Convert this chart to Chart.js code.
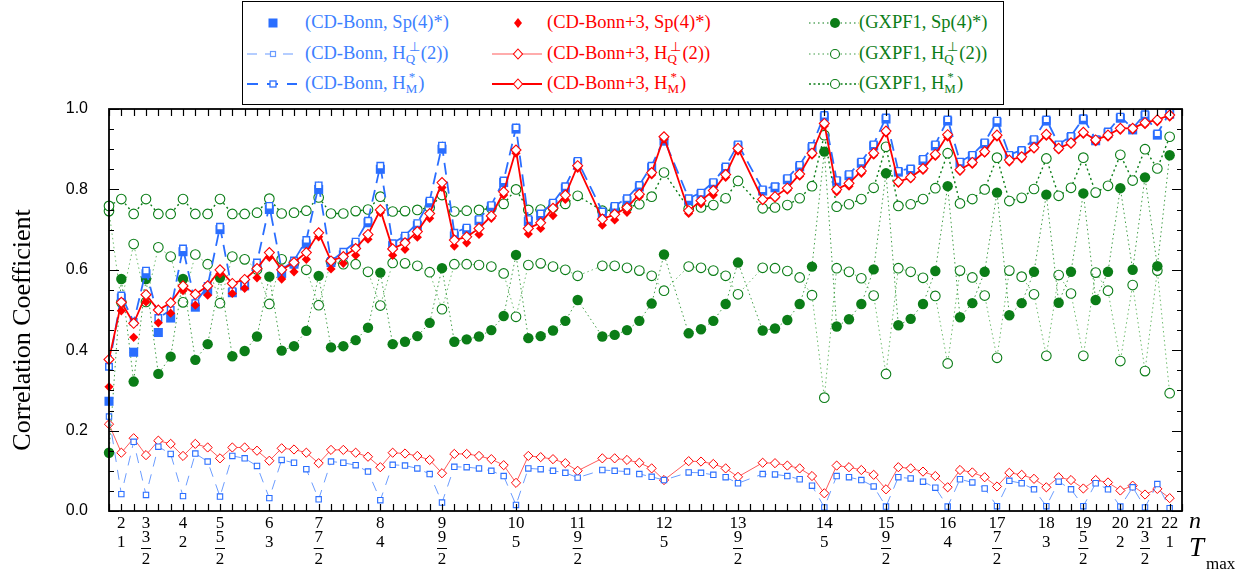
<!DOCTYPE html>
<html>
<head>
<meta charset="utf-8">
<script src="https://cdn.jsdelivr.net/npm/chart.js@4.4.1/dist/chart.umd.min.js"></script>
<style>
  body { margin: 0; background: #fff; }
  #wrap { position: relative; width: 1245px; height: 572px; }
  #legend {
    position: absolute; left: 242px; top: 1px; width: 762px; height: 104px;
    border: 1px solid #000; background: #fff; box-sizing: border-box;
    font-family: 'Liberation Serif', 'Times New Roman', serif; font-size: 18.5px;
  }
  .leg-txt { position: absolute; white-space: nowrap; line-height: 22px; }
  .leg-svg { position: absolute; }
  .ss { display: inline-block; vertical-align: middle; font-size: 13px; line-height: 12px; text-align: left; margin: -4px 1px 0 0; }
  .ss span { display: block; }
  .ss span:first-child { margin-left: 3px; }
</style>
</head>
<body>
<div id="wrap">
  <canvas id="c" width="1245" height="572"></canvas>
  <div id="legend"></div>
</div>
<script>
// Shared colors
const COLORS = {
  blue:    '#2a6eff',
  blueLt:  '#6b9cff',
  blueTxt: '#3d80ff',
  red:     '#ff0000',
  redLt:   '#ff5a5a',
  green:   '#0b7d17',
  greenMd: '#3f9c45',
  greenLt: '#6cbb6c'
};

// x positions 0..86 (one per nucleus state); null = no point
// CD-Bonn
const bonnHM = [
  0.359,0.536,0.47,0.598,0.48,0.5,0.653,0.517,0.56,0.707,
  0.547,0.566,0.618,0.759,0.6,0.623,0.674,0.81,0.622,0.645,
  0.67,0.722,0.859,0.666,0.685,0.716,0.772,0.909,0.692,0.705,
  0.726,0.761,0.822,0.954,0.726,0.74,0.767,0.808,0.871,null,
  0.745,0.759,0.778,0.811,0.859,0.925,null,0.778,0.792,0.818,
  0.857,0.912,null,0.8,0.808,0.828,0.861,0.908,0.985,0.823,
  0.838,0.869,0.912,0.979,0.846,0.852,0.876,0.912,0.974,0.869,
  0.886,0.917,0.971,0.886,0.898,0.925,0.974,0.912,0.933,0.977,
  0.925,0.944,0.981,0.952,0.987,0.939,0.991];
const bonnSp = [
  0.273,0.53,0.395,0.59,0.444,0.48,0.645,0.507,0.548,0.70,
  0.543,0.56,0.61,0.75,0.591,0.614,0.664,0.80,0.618,0.637,
  0.662,0.717,0.85,0.66,0.678,0.71,0.766,0.90,0.684,0.699,
  0.722,0.757,0.817,0.95,0.72,0.734,0.762,0.803,0.866,null,
  0.74,0.754,0.772,0.806,0.854,0.92,null,0.772,0.788,0.814,
  0.852,0.908,null,0.796,0.804,0.824,0.856,0.903,0.98,0.82,
  0.834,0.865,0.908,0.975,0.843,0.848,0.872,0.908,0.97,0.865,
  0.882,0.913,0.967,0.882,0.894,0.921,0.97,0.908,0.929,0.973,
  0.921,0.94,0.977,0.948,0.983,0.935,0.987];
const bonnHQ = [
  0.235,0.042,0.172,0.04,0.16,0.142,0.037,0.143,0.123,0.036,
  0.137,0.131,0.112,0.032,0.127,0.12,0.104,0.029,0.123,0.12,
  0.114,0.098,0.027,0.115,0.113,0.106,0.092,0.021,0.11,0.109,
  0.106,0.1,0.087,0.015,0.106,0.104,0.1,0.095,0.083,null,
  0.102,0.1,0.098,0.092,0.085,0.077,null,0.096,0.095,0.09,
  0.084,0.069,null,0.092,0.091,0.087,0.079,0.063,0.009,0.087,
  0.084,0.077,0.061,0.011,0.084,0.081,0.073,0.058,0.011,0.079,
  0.071,0.056,0.012,0.075,0.069,0.054,0.012,0.073,0.054,0.012,
  0.069,0.054,0.011,0.059,0.009,0.067,0.007];
// CD-Bonn+3
const bonn3HM = [
  0.377,0.519,0.467,0.538,0.5,0.518,0.56,0.539,0.56,0.6,
  0.566,0.576,0.603,0.643,0.6,0.618,0.643,0.692,0.622,0.633,
  0.653,0.688,0.749,0.652,0.667,0.695,0.74,0.817,0.674,0.682,
  0.703,0.734,0.794,0.898,0.703,0.717,0.753,0.786,0.859,null,
  0.726,0.738,0.755,0.788,0.842,0.931,null,0.747,0.772,0.797,
  0.837,0.902,null,0.775,0.782,0.803,0.838,0.89,0.964,0.8,
  0.815,0.846,0.89,0.945,0.819,0.83,0.852,0.887,0.936,0.849,
  0.867,0.894,0.935,0.873,0.881,0.904,0.937,0.902,0.916,0.942,
  0.923,0.935,0.952,0.952,0.966,0.973,0.985];
const bonn3Sp = [
  0.309,0.498,0.432,0.52,0.468,0.492,0.548,0.512,0.537,0.59,
  0.541,0.554,0.58,0.631,0.577,0.595,0.626,0.682,0.602,0.616,
  0.636,0.676,0.742,0.636,0.651,0.681,0.728,0.805,0.659,0.667,
  0.688,0.728,0.786,0.89,0.689,0.703,0.735,0.775,0.852,null,
  0.711,0.724,0.743,0.782,0.836,0.925,null,0.74,0.764,0.786,
  0.83,0.895,null,0.772,0.778,0.798,0.833,0.885,0.958,0.794,
  0.808,0.84,0.885,0.94,0.815,0.826,0.847,0.882,0.93,0.845,
  0.862,0.89,0.93,0.868,0.876,0.9,0.932,0.898,0.912,0.937,
  0.918,0.93,0.947,0.948,0.961,0.968,0.98];
const bonn3HQ = [
  0.216,0.145,0.181,0.139,0.175,0.167,0.137,0.167,0.158,0.131,
  0.158,0.158,0.15,0.125,0.156,0.153,0.145,0.119,0.152,0.152,
  0.145,0.135,0.109,0.145,0.143,0.137,0.127,0.094,0.142,0.142,
  0.137,0.129,0.114,0.07,0.137,0.134,0.129,0.119,0.1,null,
  0.131,0.131,0.127,0.12,0.106,0.077,null,0.124,0.123,0.117,
  0.106,0.085,null,0.12,0.119,0.113,0.106,0.087,0.044,0.113,
  0.109,0.102,0.09,0.054,0.109,0.106,0.098,0.087,0.059,0.102,
  0.096,0.084,0.061,0.095,0.09,0.08,0.059,0.084,0.077,0.056,
  0.077,0.071,0.051,0.063,0.041,0.055,0.032];
// GXPF1
const gxHM = [
  0.759,0.776,0.739,0.776,0.739,0.739,0.776,0.739,0.739,0.776,
  0.739,0.739,0.742,0.777,0.74,0.742,0.747,0.78,0.74,0.74,
  0.746,0.75,0.782,0.745,0.746,0.749,0.755,0.786,0.745,0.747,
  0.749,0.753,0.764,0.8,0.749,0.75,0.755,0.764,0.784,null,
  0.747,0.749,0.755,0.763,0.782,0.842,null,0.752,0.755,0.761,
  0.778,0.821,null,0.753,0.755,0.761,0.778,0.808,0.935,0.757,
  0.763,0.776,0.804,0.906,0.759,0.763,0.776,0.803,0.89,0.765,
  0.776,0.8,0.879,0.771,0.779,0.801,0.877,0.784,0.804,0.879,
  0.792,0.809,0.886,0.822,0.9,0.852,0.931];
const gxSp = [
  0.145,0.577,0.322,0.577,0.341,0.384,0.577,0.376,0.415,0.58,
  0.385,0.398,0.434,0.583,0.399,0.41,0.448,0.585,0.407,0.41,
  0.425,0.456,0.593,0.415,0.421,0.435,0.468,0.604,0.421,0.427,
  0.434,0.45,0.485,0.637,0.43,0.435,0.449,0.473,0.525,null,
  0.434,0.438,0.45,0.473,0.516,0.638,null,0.442,0.452,0.473,
  0.515,0.618,null,0.449,0.454,0.475,0.515,0.608,0.894,0.459,
  0.477,0.515,0.601,0.84,0.462,0.478,0.515,0.597,0.808,0.482,
  0.517,0.595,0.792,0.487,0.517,0.595,0.787,0.518,0.595,0.79,
  0.525,0.595,0.803,0.6,0.83,0.609,0.885];
const gxHQ = [
  0.746,0.519,0.664,0.52,0.656,0.633,0.519,0.638,0.614,0.517,
  0.633,0.626,0.601,0.515,0.626,0.616,0.6,0.512,0.62,0.614,
  0.614,0.595,0.511,0.617,0.616,0.61,0.594,0.502,0.614,0.614,
  0.612,0.608,0.591,0.483,0.612,0.616,0.608,0.6,0.585,null,
  0.61,0.61,0.605,0.598,0.585,0.548,null,0.608,0.605,0.598,
  0.585,0.539,null,0.605,0.604,0.597,0.581,0.537,0.282,0.604,
  0.595,0.579,0.536,0.341,0.604,0.595,0.58,0.535,0.367,0.598,
  0.581,0.536,0.381,0.598,0.583,0.539,0.386,0.587,0.541,0.386,
  0.593,0.548,0.373,0.562,0.348,0.598,0.293];

// x-axis labels: n and T_max under selected positions
const labelIdx = [1,3,6,9,13,17,22,27,33,38,45,51,58,63,68,72,76,79,82,84,86];
const nLabels  = ['2','3','4','5','6','7','8','9','10','11','12','13','14','15','16','17','18','19','20','21','22'];
const tLabels  = ['1','3/2','2','5/2','3','7/2','4','9/2','5','9/2','5','9/2','5','9/2','4','7/2','3','5/2','2','3/2','1'];
const X_MAX = 87;

const pts = arr => arr.map((v, i) => ({ x: i, y: v })).filter(p => p.y !== null);

// ── Legend (HTML) ────────────────────────────────────────────────
const legendItems = [
  { col: 0, row: 0, color: COLORS.blueTxt, text: '(CD-Bonn, Sp(4)*)', mk: 'sqFill', ln: null },
  { col: 0, row: 1, color: COLORS.blueTxt, text: '(CD-Bonn, H<span class="ss"><span>&#8869;</span><span>Q</span></span>(2))', mk: 'sqOpenS', ln: 'blueThin' },
  { col: 0, row: 2, color: COLORS.blueTxt, text: '(CD-Bonn, H<span class="ss"><span>*</span><span>M</span></span>)', mk: 'sqOpen', ln: 'blueThick' },
  { col: 1, row: 0, color: COLORS.red, text: '(CD-Bonn+3, Sp(4)*)', mk: 'diaFill', ln: null },
  { col: 1, row: 1, color: COLORS.red, text: '(CD-Bonn+3, H<span class="ss"><span>&#8869;</span><span>Q</span></span>(2))', mk: 'diaOpen', ln: 'redThin' },
  { col: 1, row: 2, color: COLORS.red, text: '(CD-Bonn+3, H<span class="ss"><span>*</span><span>M</span></span>)', mk: 'diaOpen', ln: 'redThick' },
  { col: 2, row: 0, color: COLORS.green, text: '(GXPF1, Sp(4)*)', mk: 'cirFill', ln: 'greenMd' },
  { col: 2, row: 1, color: COLORS.green, text: '(GXPF1, H<span class="ss"><span>&#8869;</span><span>Q</span></span>(2))', mk: 'cirOpen', ln: 'greenLt' },
  { col: 2, row: 2, color: COLORS.green, text: '(GXPF1, H<span class="ss"><span>*</span><span>M</span></span>)', mk: 'cirOpen', ln: 'greenDk' }
];
const LEG_MARK_X = [30, 275, 592];
const LEG_TEXT_X = [62, 304, 616];
const LEG_ROW_Y  = [21, 52, 82];

function sampleSvg(mk, ln) {
  const lines = {
    blueThin:  `<line x1="0" y1="8" x2="50" y2="8" stroke="${COLORS.blueLt}" stroke-width="1.2" stroke-dasharray="10 8"/>`,
    blueThick: `<line x1="0" y1="8" x2="50" y2="8" stroke="${COLORS.blue}" stroke-width="2" stroke-dasharray="11 9"/>`,
    redThin:   `<line x1="0" y1="8" x2="50" y2="8" stroke="${COLORS.redLt}" stroke-width="1.2"/>`,
    redThick:  `<line x1="0" y1="8" x2="50" y2="8" stroke="${COLORS.red}" stroke-width="2"/>`,
    greenMd:   `<line x1="0" y1="8" x2="50" y2="8" stroke="${COLORS.green}" stroke-width="1.2" stroke-dasharray="1.5 3"/>`,
    greenLt:   `<line x1="0" y1="8" x2="50" y2="8" stroke="${COLORS.greenMd}" stroke-width="1.2" stroke-dasharray="1.5 3"/>`,
    greenDk:   `<line x1="0" y1="8" x2="50" y2="8" stroke="${COLORS.green}" stroke-width="1.5" stroke-dasharray="2 2.5"/>`
  };
  const marks = {
    sqFill:  `<rect x="21.5" y="3.5" width="9" height="9" fill="${COLORS.blue}"/>`,
    sqOpenS: `<rect x="23.5" y="5.5" width="5" height="5" fill="#fff" stroke="${COLORS.blueLt}" stroke-width="1.2"/>`,
    sqOpen:  `<rect x="23" y="5" width="6" height="6" fill="#fff" stroke="${COLORS.blue}" stroke-width="1.3"/>`,
    diaFill: `<path d="M26 3 L30 8 L26 13 L22 8 Z" fill="${COLORS.red}"/>`,
    diaOpen: `<path d="M26 3 L30.5 8 L26 13 L21.5 8 Z" fill="#fff" stroke="${COLORS.red}" stroke-width="1.1"/>`,
    cirFill: `<circle cx="26" cy="8" r="5" fill="${COLORS.green}"/>`,
    cirOpen: `<circle cx="26" cy="8" r="4.5" fill="#fff" stroke="${COLORS.green}" stroke-width="1.1"/>`
  };
  return `<svg width="52" height="16">${ln ? lines[ln] : ''}${marks[mk]}</svg>`;
}

document.getElementById('legend').innerHTML = legendItems.map(it => `
  <div class="leg-svg" style="left:${LEG_MARK_X[it.col] - 26}px;top:${LEG_ROW_Y[it.row] - 8}px">${sampleSvg(it.mk, it.ln)}</div>
  <div class="leg-txt" style="left:${LEG_TEXT_X[it.col]}px;top:${LEG_ROW_Y[it.row] - 12}px;color:${it.color}">${it.text}</div>
`).join('');

// ── Frame, inward ticks, two-row x labels, y title ───────────────
const framePlugin = {
  id: 'frame',
  afterDraw(chart) {
    const { ctx, chartArea: a, scales: { x, y } } = chart;
    ctx.save();
    ctx.strokeStyle = '#000';
    ctx.lineWidth = 1.2;
    ctx.beginPath();
    for (let i = 0; i <= X_MAX; i++) {
      const px = Math.round(x.getPixelForValue(i)) + 0.5;
      ctx.moveTo(px, a.bottom); ctx.lineTo(px, a.bottom - 7);
      ctx.moveTo(px, a.top);    ctx.lineTo(px, a.top + 7);
    }
    for (let k = 0; k <= 20; k++) {
      const py = Math.round(y.getPixelForValue(k * 0.05)) + 0.5;
      const len = k % 4 === 0 ? 10 : 5;
      ctx.moveTo(a.left, py);  ctx.lineTo(a.left + len, py);
      ctx.moveTo(a.right, py); ctx.lineTo(a.right - len, py);
    }
    ctx.stroke();
    ctx.lineWidth = 1.8;
    ctx.strokeRect(a.left, a.top, a.right - a.left, a.bottom - a.top);

    // x labels
    ctx.fillStyle = '#000';
    ctx.textAlign = 'center';
    ctx.textBaseline = 'middle';
    ctx.font = '17px "Liberation Serif", serif';
    labelIdx.forEach((idx, k) => {
      const px = x.getPixelForValue(idx);
      ctx.fillText(nLabels[k], px, 524);
      const t = tLabels[k];
      if (t.includes('/')) {
        const [num, den] = t.split('/');
        ctx.fillText(num, px, 538);
        ctx.lineWidth = 1;
        ctx.beginPath(); ctx.moveTo(px - 5, 548.5); ctx.lineTo(px + 5, 548.5); ctx.stroke();
        ctx.fillText(den, px, 560);
      } else {
        ctx.fillText(t, px, 543);
      }
    });
    ctx.textAlign = 'left';
    ctx.font = 'italic 24px "Liberation Serif", serif';
    ctx.fillText('n', 1189, 522);
    ctx.font = 'italic 27px "Liberation Serif", serif';
    ctx.fillText('T', 1189, 549);
    ctx.font = '17px "Liberation Serif", serif';
    ctx.fillText('max', 1206, 565);

    // y title
    ctx.translate(23, 330);
    ctx.rotate(-Math.PI / 2);
    ctx.textAlign = 'center';
    ctx.font = '26px "Liberation Serif", serif';
    ctx.fillText('Correlation Coefficient', 0, 0);
    ctx.restore();
  }
};

// ── Datasets (first one drawn on top) ────────────────────────────
const base = { clip: false, tension: 0, spanGaps: true };
const datasets = [
  { ...base, label: 'CD-Bonn+3, H_M*', data: pts(bonn3HM), showLine: true,
    borderColor: COLORS.red, borderWidth: 1.8, pointStyle: 'rectRot', pointRadius: 5,
    pointBorderWidth: 1.1, pointBorderColor: COLORS.red, pointBackgroundColor: '#fff' },
  { ...base, label: 'CD-Bonn+3, Sp(4)*', data: pts(bonn3Sp), showLine: false,
    pointStyle: 'rectRot', pointRadius: 4.6, pointBorderWidth: 0, pointBackgroundColor: COLORS.red },
  { ...base, label: 'CD-Bonn, H_M*', data: pts(bonnHM), showLine: true,
    borderColor: COLORS.blue, borderWidth: 1.8, borderDash: [12, 7], pointStyle: 'rect', pointRadius: 4.6,
    pointBorderWidth: 1.4, pointBorderColor: COLORS.blue, pointBackgroundColor: '#fff' },
  { ...base, label: 'CD-Bonn, Sp(4)*', data: pts(bonnSp), showLine: false,
    pointStyle: 'rect', pointRadius: 6.4, pointBorderWidth: 0, pointBackgroundColor: COLORS.blue },
  { ...base, label: 'GXPF1, H_M*', data: pts(gxHM), showLine: true,
    borderColor: COLORS.green, borderWidth: 1.4, borderDash: [2, 3], pointStyle: 'circle', pointRadius: 4.8,
    pointBorderWidth: 1.1, pointBorderColor: COLORS.green, pointBackgroundColor: '#fff' },
  { ...base, label: 'GXPF1, Sp(4)*', data: pts(gxSp), showLine: true,
    borderColor: COLORS.greenMd, borderWidth: 1, borderDash: [1.5, 3], pointStyle: 'circle', pointRadius: 5.2,
    pointBorderWidth: 0, pointBackgroundColor: COLORS.green },
  { ...base, label: 'GXPF1, H_Q(2)', data: pts(gxHQ), showLine: true,
    borderColor: COLORS.greenLt, borderWidth: 1, borderDash: [1.5, 3], pointStyle: 'circle', pointRadius: 4.8,
    pointBorderWidth: 1.1, pointBorderColor: COLORS.green, pointBackgroundColor: '#fff' },
  { ...base, label: 'CD-Bonn, H_Q(2)', data: pts(bonnHQ), showLine: true,
    borderColor: COLORS.blueLt, borderWidth: 1, borderDash: [10, 8], pointStyle: 'rect', pointRadius: 3.8,
    pointBorderWidth: 1.1, pointBorderColor: COLORS.blue, pointBackgroundColor: '#fff' },
  { ...base, label: 'CD-Bonn+3, H_Q(2)', data: pts(bonn3HQ), showLine: true,
    borderColor: COLORS.redLt, borderWidth: 1, pointStyle: 'rectRot', pointRadius: 4.6,
    pointBorderWidth: 1, pointBorderColor: COLORS.red, pointBackgroundColor: '#fff' }
];

new Chart(document.getElementById('c'), {
  type: 'scatter',
  data: { datasets },
  options: {
    responsive: false,
    animation: false,
    layout: { padding: { top: 109, right: 63, left: 0, bottom: 0 } },
    plugins: { legend: { display: false }, tooltip: { enabled: false } },
    scales: {
      x: {
        type: 'linear', min: 0, max: X_MAX,
        ticks: { display: false },
        grid: { display: false, drawTicks: false },
        border: { display: false },
        afterFit: s => { s.height = 61; }
      },
      y: {
        min: 0, max: 1,
        ticks: { stepSize: 0.2, padding: 21, color: '#000',
                 font: { family: '"Liberation Sans", Arial, sans-serif', size: 16 },
                 callback: v => v.toFixed(1) },
        grid: { display: false, drawTicks: false },
        border: { display: false },
        afterFit: s => { s.width = 109; }
      }
    }
  },
  plugins: [framePlugin]
});
</script>
</body>
</html>
